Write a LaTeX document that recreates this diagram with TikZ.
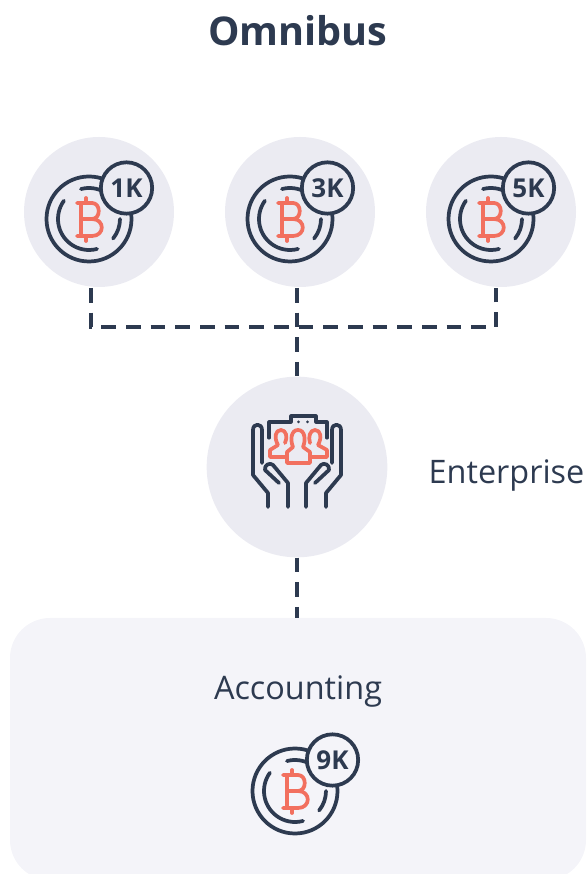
\documentclass[tikz,border=0pt]{standalone}
\usepackage{fontspec}
\setmainfont{Open Sans}
\usetikzlibrary{positioning}
\definecolor{myink}{HTML}{2D3A50}
\definecolor{mysalmon}{HTML}{F2705F}
\definecolor{mygrey}{HTML}{EBEBF2}
\definecolor{mypale}{HTML}{F4F4F9}

\begin{document}
\begin{tikzpicture}
[x=0.75pt, y=0.75pt,
 disc/.style={circle, fill=mygrey, inner sep=0pt, minimum size=112.5pt},
 bigdisc/.style={circle, fill=mygrey, inner sep=0pt, minimum size=135.5pt},
 badge/.style={circle, draw=myink, line width=2.8pt, inner sep=0pt, minimum size=38.5pt,
   font=\fontsize{19.5}{19.5}\selectfont\bfseries, text=myink},
 ink/.style={draw=myink, line width=2.8pt, line cap=round, line join=round},
 salmon/.style={draw=mysalmon, line width=2.8pt, line cap=round, line join=round},
 link/.style={draw=myink, line width=3pt, dash pattern=on 11pt off 7.5pt},
 label/.style={text=myink, font=\fontsize{24.3}{24.3}\selectfont},
 pics/coin/.style 2 args={code={
   \draw[ink] (0,0) circle (42.5);
   \draw[ink] (144:31) arc (144:285:31);
   \draw[ink] (105:31) arc (105:60:31);
   \draw[ink] (-39:31) arc (-39:0:31);
   % the B with its ticks
   \draw[salmon] (-8,16) -- (-8,-17) (-3,16) -- (-3,21) (-3,-17) -- (-3,-22);
   \draw[salmon] (-12,16) -- (3,16) .. controls (12,16) and (12,0) .. (3,0) -- (-8,0);
   \draw[salmon] (3,0) .. controls (16,0) and (16,-17) .. (3,-17) -- (-12,-17);
   \node[badge, fill=#2] (-badge) at (37.5,31) {#1};
 }}]

\useasboundingbox (0,0) rectangle (586,874);

% backgrounds
\fill[mypale, rounded corners=30pt] (10,-6) rectangle (586,256);
\node[disc] (discA) at (99,662) {};
\node[disc] (discB) at (300,662) {};
\node[disc] (discC) at (501,662) {};
\node[bigdisc] (enterprise) at (297,407) {};

\node[text=myink, font=\fontsize{29.7}{29.7}\selectfont\bfseries] (title) at (298,843) {Omnibus};
\node[label, anchor=west] (enterpriseLabel) at (424,398) {Enterprise};
\node[label] (accounting) at (298,182) {Accounting};

% coins and their amounts
\pic (coinA) at (89,655) {coin={1K}{mygrey}};
\pic (coinB) at (290,655) {coin={3K}{mygrey}};
\pic (coinC) at (491,655) {coin={5K}{mygrey}};
\pic (coinD) at (295,83) {coin={9K}{mypale}};

% dashed tree
\coordinate (tapA) at (91,586);
\coordinate (tapB) at (297,586);
\coordinate (tapC) at (496,586);
\coordinate (barA) at (91,547);
\coordinate (barC) at (496,547);
\coordinate (tapBox) at (297,256);
\draw[link] (tapA) -- (barA) -- (barC) -- (tapC);
\draw[link] (tapB) -- (enterprise.north);
\draw[link] (enterprise.south) -- (tapBox);

% hands holding the team
\begin{scope}[shift={(enterprise.center)}]
\foreach \s in {1,-1} {
  \begin{scope}[xscale=\s]
  \draw[ink] (-29,-40) -- (-29,-26) -- (-44,-8) -- (-44,37)
    .. controls (-44,44) and (-35,44) .. (-35,37) -- (-35,4);
  \draw[ink] (-18,-16) -- (-32,-3) .. controls (-33,2) and (-27,5) .. (-24,2)
    -- (-9,-16) -- (-9,-40);
  \end{scope}
}
\draw[ink, line width=2.3pt] (-28,29) -- (-28,45) -- (-6,45) -- (-6,51) -- (19,51) -- (19,45) -- (30,45) -- (30,29);
\fill[myink] (1.5,45) circle (1.5) (10.5,45) circle (1.5);
\draw[salmon] (-10,4) -- (-10,15) -- (-4,20) .. controls (-7,27) and (-6,37) .. (1,37)
  .. controls (8,37) and (9,27) .. (6,20) -- (13,15) -- (13,4) -- cycle;
\draw[salmon] (-10,10) -- (-27,10) -- (-27,17) -- (-19,22) .. controls (-23,29) and (-22,37) .. (-16,37)
  .. controls (-11,37) and (-9,30) .. (-12,24);
\draw[salmon] (13,10) -- (30,10) -- (30,17) -- (21,22) .. controls (25,29) and (24,37) .. (18,37)
  .. controls (13,37) and (11,30) .. (13,24);
\end{scope}

\end{tikzpicture}
\end{document}
